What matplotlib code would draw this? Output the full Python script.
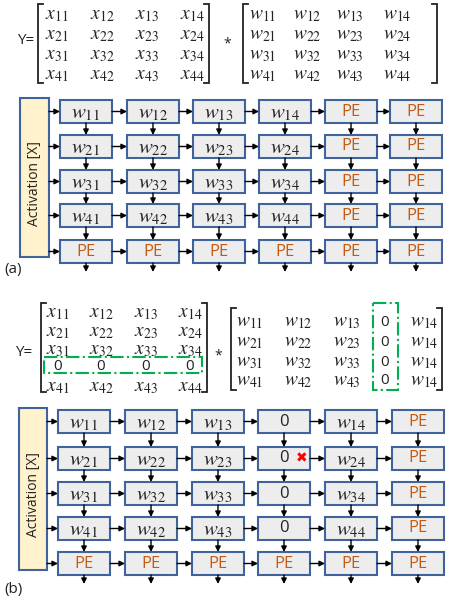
import matplotlib
matplotlib.use('Agg')
import matplotlib.pyplot as plt
from matplotlib.patches import Rectangle

plt.rcParams['mathtext.fontset'] = 'stix'
plt.rcParams['font.family'] = ['Open Sans', 'DejaVu Sans']

# ---- data: matrix entries and PE array labels ----
x_mat = [['x_{11}', 'x_{12}', 'x_{13}', 'x_{14}'],
         ['x_{21}', 'x_{22}', 'x_{23}', 'x_{24}'],
         ['x_{31}', 'x_{32}', 'x_{33}', 'x_{34}'],
         ['x_{41}', 'x_{42}', 'x_{43}', 'x_{44}']]
w_mat = [['w_{11}', 'w_{12}', 'w_{13}', 'w_{14}'],
         ['w_{21}', 'w_{22}', 'w_{23}', 'w_{24}'],
         ['w_{31}', 'w_{32}', 'w_{33}', 'w_{34}'],
         ['w_{41}', 'w_{42}', 'w_{43}', 'w_{44}']]
x_mat_b = [x_mat[0], x_mat[1], x_mat[2], ['0', '0', '0', '0'], x_mat[3]]
w_mat_b = [['w_{11}', 'w_{12}', 'w_{13}', '0', 'w_{14}'],
           ['w_{21}', 'w_{22}', 'w_{23}', '0', 'w_{14}'],
           ['w_{31}', 'w_{32}', 'w_{33}', '0', 'w_{14}'],
           ['w_{41}', 'w_{42}', 'w_{43}', '0', 'w_{14}']]

grid_a = [r[:] + ['PE', 'PE'] for r in w_mat] + [['PE'] * 6]
grid_b = [[r[0], r[1], r[2], '0', r[3], 'PE'] for r in w_mat] + [['PE'] * 6]

BLUE = '#41639C'
FILL = '#EDEDED'
ORANGE = '#C55A11'
GREEN = '#00B050'
INK = '#222222'

fig = plt.figure(figsize=(4.49, 5.98), dpi=100)
ax = fig.add_axes([0, 0, 1, 1])
ax.set_xlim(0, 449)
ax.set_ylim(598, 0)
ax.axis('off')


def bracket(x, y0, y1, side, w=5):
    d = w if side == 'L' else -w
    ax.plot([x + d, x, x, x + d], [y0, y0, y1, y1], color=INK, lw=1.3,
            solid_joinstyle='miter')


def matrix(entries, cols, rows, xl, xr, y0, y1, fs=14):
    bracket(xl, y0, y1, 'L')
    bracket(xr, y0, y1, 'R')
    for i, row in enumerate(entries):
        for j, e in enumerate(row):
            if e == '0':
                ax.text(cols[j], rows[i], '0', fontsize=fs - 3, ha='center',
                        va='center', color=INK)
            else:
                ax.text(cols[j], rows[i], '$' + e + '$', fontsize=fs,
                        ha='center', va='center', color=INK)


def arrow(x0, y0, x1, y1):
    ax.annotate('', xy=(x1, y1), xytext=(x0, y0),
                arrowprops=dict(arrowstyle='-|>', lw=1.0, color='black',
                                mutation_scale=8, shrinkA=0, shrinkB=0))


def pe_array(labels, col_l, row_t, act_box, bw=52, bh=23, tag='(a)', tag_y=0):
    ax0, ay0, ax1, ay1 = act_box
    ax.add_patch(Rectangle((ax0, ay0), ax1 - ax0, ay1 - ay0, facecolor='#FFF2CC',
                           edgecolor=BLUE, lw=1.5))
    ax.text((ax0 + ax1) / 2, (ay0 + ay1) / 2 + 6, 'Activation [X]', rotation=90,
            ha='center', va='center', fontsize=10, color=INK)
    for i, row in enumerate(labels):
        yc = row_t[i] + bh / 2
        arrow(ax1, yc, col_l[0], yc)
        for j, s in enumerate(row):
            x = col_l[j]
            ax.add_patch(Rectangle((x, row_t[i]), bw, bh, facecolor=FILL,
                                   edgecolor=BLUE, lw=1.5))
            if s == 'PE':
                ax.text(x + bw / 2, yc, 'PE', ha='center', va='center',
                        fontsize=12, color=ORANGE)
            elif s == '0':
                ax.text(x + bw / 2, yc, '0', ha='center', va='center',
                        fontsize=12, color=INK)
            else:
                ax.text(x + bw / 2, yc + 1, '$' + s + '$', ha='center',
                        va='center', fontsize=15, color=INK)
            if j + 1 < len(row):
                arrow(x + bw, yc, col_l[j + 1], yc)
            ybot = row_t[i] + bh
            ynext = row_t[i + 1] if i + 1 < len(labels) else ybot + 9
            arrow(x + bw / 2, ybot, x + bw / 2, ynext)
    ax.text(4, tag_y, tag, fontsize=11, ha='left', va='center', color=INK)


# ---- (a) ----
ax.text(26, 40, 'Y=', fontsize=11, ha='center', va='center', color=INK)
matrix(x_mat, [57, 102, 147, 192], [15, 35, 55, 75], 38, 209, 4, 83)
ax.text(227, 44, '*', fontsize=10, ha='center', va='center', color=INK)
matrix(w_mat, [263, 307, 350, 397], [15, 35, 55, 75], 243, 437, 4, 83)

pe_array(grid_a, [60, 127, 193, 259, 325, 390], [100, 135, 170, 204, 240],
         (20, 98, 49, 257), tag='(a)', tag_y=270)

# ---- (b) ----
ax.text(24, 352, 'Y=', fontsize=11, ha='center', va='center', color=INK)
matrix(x_mat_b, [58, 101, 146, 190], [313, 332, 350, 367, 387], 41, 207, 303, 392)
ax.add_patch(Rectangle((44, 357), 158, 16, fill=False, edgecolor=GREEN, lw=1.5,
                       linestyle='-.'))
ax.text(218, 356, '*', fontsize=10, ha='center', va='center', color=INK)
matrix(w_mat_b, [250, 298, 347, 385, 424], [322, 342, 362, 381], 231, 442, 308, 390)
ax.add_patch(Rectangle((373, 303), 25, 87, fill=False, edgecolor=GREEN, lw=1.5,
                       linestyle='-.'))

pe_array(grid_b, [58, 125, 192, 258, 325, 392], [410, 447, 482, 517, 552],
         (19, 408, 47, 570), tag='(b)', tag_y=590)
ax.text(302, 458, '\u2716', fontsize=10, color='red', ha='center', va='center',
        family='DejaVu Sans')

fig.savefig('out.png', dpi=100)
